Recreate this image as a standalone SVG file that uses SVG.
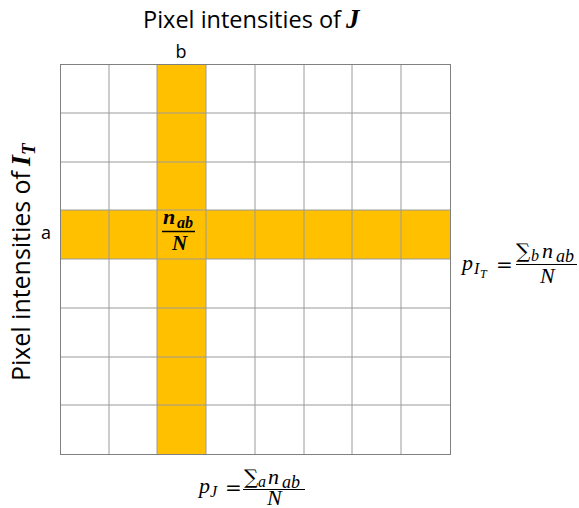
<svg xmlns="http://www.w3.org/2000/svg" width="579" height="508" viewBox="0 0 579 508">
<style>
.lbl{font-family:"Open Sans","Liberation Sans",sans-serif;fill:#000}
.m{font-family:"Liberation Serif","DejaVu Serif",serif;font-style:italic;fill:#000}
.mb{font-family:"Liberation Serif","DejaVu Serif",serif;font-style:italic;font-weight:bold;fill:#000}
.op{font-family:"DejaVu Serif","Liberation Serif",serif;fill:#000}
.g{stroke:#9a9a9a;stroke-width:1;fill:none}
</style>
<rect width="579" height="508" fill="#fff"/>
<g id="highlight">
<rect x="157" y="64" width="49" height="390" fill="#FFC000"/>
<rect x="60" y="210" width="390" height="49" fill="#FFC000"/>
</g>
<g id="grid">
<path class="g" d="M109,64V454M157,64V454M206,64V454M255,64V454M304,64V454M352,64V454M401,64V454M60,113H450M60,162H450M60,210H450M60,259H450M60,308H450M60,357H450M60,405H450"/>
<rect x="60.5" y="64.5" width="390" height="390" fill="none" stroke="#808080" stroke-width="1"/>
</g>
<g id="title">
<text class="lbl" x="143" y="28" font-size="24" textLength="198" lengthAdjust="spacingAndGlyphs">Pixel intensities of</text>
<text class="mb" x="346" y="28" font-size="27">J</text>
</g>
<g id="label-b"><text class="lbl" x="181" y="58" font-size="18" text-anchor="middle">b</text></g>
<g id="label-a"><text class="lbl" x="46" y="239" font-size="18" text-anchor="middle">a</text></g>
<g id="ylabel">
<g transform="translate(30,381) rotate(-90)">
<text class="lbl" x="0" y="0" font-size="25" textLength="210" lengthAdjust="spacingAndGlyphs">Pixel intensities of</text>
<text class="mb" x="215" y="0" font-size="28">I<tspan font-size="19" dy="5">T</tspan></text>
</g>
</g>
<g id="cell-formula">
<text class="mb" x="163" y="224" font-size="22">n</text>
<text class="mb" x="177" y="228" font-size="16">ab</text>
<line x1="162" y1="231.5" x2="195" y2="231.5" stroke="#000" stroke-width="1.5"/>
<text class="mb" x="172" y="250" font-size="21">N</text>
</g>
<g id="formula-IT">
<text class="m" x="462" y="270" font-size="22">p</text>
<text class="m" x="474" y="274" font-size="16">I</text>
<text class="m" x="480" y="278" font-size="12">T</text>
<text class="op" x="496" y="272" font-size="20">=</text>
<text class="op" x="516" y="258" font-size="20">∑</text>
<text class="m" x="531" y="261" font-size="16">b</text>
<text class="m" x="542" y="258" font-size="22">n</text>
<text class="m" x="556" y="262" font-size="18">ab</text>
<line x1="516" y1="264.5" x2="577" y2="264.5" stroke="#000" stroke-width="1"/>
<text class="m" x="540" y="283" font-size="22">N</text>
</g>
<g id="formula-J">
<text class="m" x="199" y="493" font-size="22">p</text>
<text class="m" x="210" y="497" font-size="16">J</text>
<text class="op" x="225" y="495" font-size="20">=</text>
<text class="op" x="244" y="484" font-size="20">∑</text>
<text class="m" x="258" y="487" font-size="16">a</text>
<text class="m" x="268" y="484" font-size="22">n</text>
<text class="m" x="282" y="488" font-size="18">ab</text>
<line x1="243" y1="489.5" x2="305" y2="489.5" stroke="#000" stroke-width="1"/>
<text class="m" x="267" y="505" font-size="22">N</text>
</g>
</svg>
